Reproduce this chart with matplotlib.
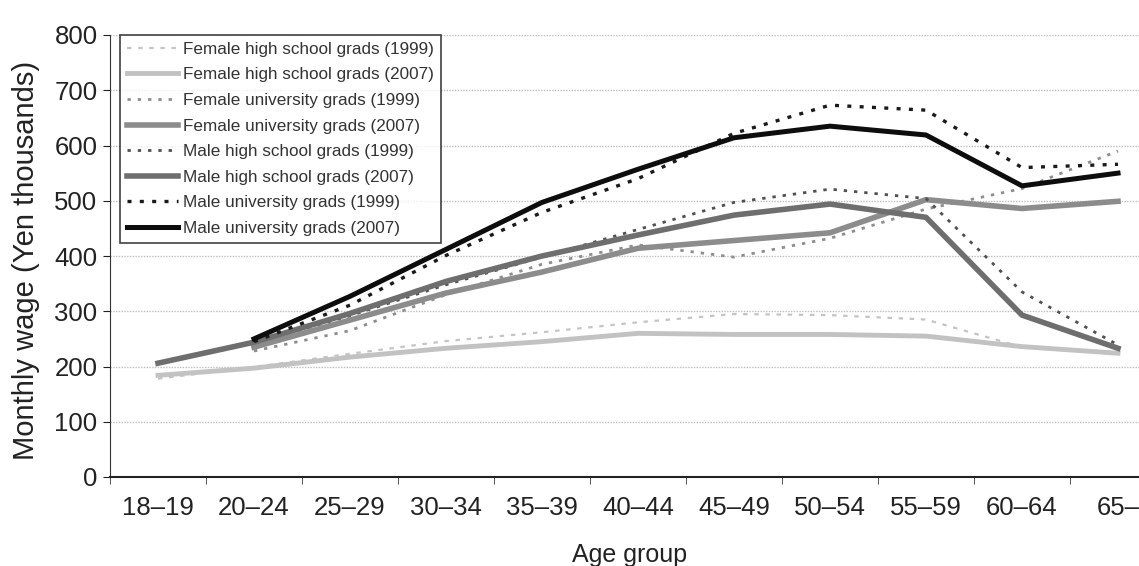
import numpy as np
import matplotlib
matplotlib.use('Agg')
import matplotlib.pyplot as plt

plt.rcParams['font.family'] = ['Liberation Sans', 'DejaVu Sans']

# age groups and monthly wages (Yen thousands)
ages = ['18–19', '20–24', '25–29', '30–34', '35–39', '40–44',
        '45–49', '50–54', '55–59', '60–64', '65–']
nan = np.nan
fem_hs_1999 = [178, 199, 223, 246, 262, 280, 295, 293, 285, 235, 226]
fem_hs_2007 = [184, 197, 217, 233, 245, 260, 258, 258, 255, 236, 224]
fem_uni_1999 = [nan, 228, 265, 330, 385, 420, 398, 432, 485, 522, 590]
fem_uni_2007 = [nan, 235, 284, 333, 371, 414, 428, 442, 502, 486, 499]
male_hs_1999 = [205, 243, 292, 348, 398, 448, 497, 521, 504, 335, 239]
male_hs_2007 = [206, 244, 296, 354, 400, 438, 474, 494, 470, 293, 233]
male_uni_1999 = [nan, 245, 311, 401, 479, 540, 622, 673, 664, 560, 566]
male_uni_2007 = [nan, 250, 327, 412, 497, 557, 614, 635, 619, 527, 550]

series = [
    ('Female high school grads (1999)', fem_hs_1999, '#c4c4c4', 1.6, (0, (2, 3))),
    ('Female high school grads (2007)', fem_hs_2007, '#c2c2c2', 3.5, '-'),
    ('Female university grads (1999)', fem_uni_1999, '#8e8e8e', 2.0, (0, (1.2, 2.5))),
    ('Female university grads (2007)', fem_uni_2007, '#8c8c8c', 4.0, '-'),
    ('Male high school grads (1999)', male_hs_1999, '#505050', 2.0, (0, (1.2, 2.5))),
    ('Male high school grads (2007)', male_hs_2007, '#6e6e6e', 4.0, '-'),
    ('Male university grads (1999)', male_uni_1999, '#1a1a1a', 2.4, (0, (1.2, 2.5))),
    ('Male university grads (2007)', male_uni_2007, '#0d0d0d', 3.6, '-'),
]

fig = plt.figure(figsize=(11.39, 5.66), dpi=100)
ax = fig.add_axes([110 / 1139, 89 / 566, 1056 / 1139, 442 / 566])

x = np.arange(len(ages))
for label, vals, col, lw, ls in series:
    ax.plot(x, vals, color=col, lw=lw, ls=ls, label=label)

ax.set_xlim(-0.5, len(ages) - 0.5)
ax.set_ylim(0, 800)
ax.set_yticks(range(0, 801, 100))
ax.set_xticks(x)
ax.set_xticklabels(ages)
ax.set_xticks(np.arange(-0.5, len(ages)), minor=True)
ax.tick_params(axis='x', which='major', length=0, pad=14, labelsize=18.5, colors='#222222')
ax.tick_params(axis='x', which='minor', length=5, direction='out', color='#333333')
ax.tick_params(axis='y', length=5, direction='out', labelsize=18.5, colors='#222222', pad=4)

ax.grid(axis='y', color='#bdbdbd', lw=1, ls=(0, (1, 1)))
ax.set_axisbelow(True)
for s in ['top', 'right']:
    ax.spines[s].set_visible(False)
ax.spines['left'].set_color('#333333')
ax.spines['bottom'].set_color('#222222')
ax.spines['bottom'].set_linewidth(1.5)

ax.set_xlabel('Age group', fontsize=18, color='#222222')
ax.xaxis.set_label_coords(520 / 1056, -0.15)
ax.set_ylabel('Monthly wage (Yen thousands)', fontsize=21, color='#222222')
ax.yaxis.set_label_coords(-70 / 1056, 0.49)

leg = ax.legend(loc='upper left', bbox_to_anchor=(120 / 1139, 1 - 35 / 566),
                bbox_transform=fig.transFigure, borderaxespad=0, fontsize=12.3,
                frameon=True, fancybox=False, edgecolor='#111111',
                handlelength=3.0, handletextpad=0.3, labelspacing=0.62,
                borderpad=0.4)
leg.get_frame().set_linewidth(1.2)
for t in leg.get_texts():
    t.set_color('#333333')

fig.savefig('out.png', dpi=100, facecolor='white')
